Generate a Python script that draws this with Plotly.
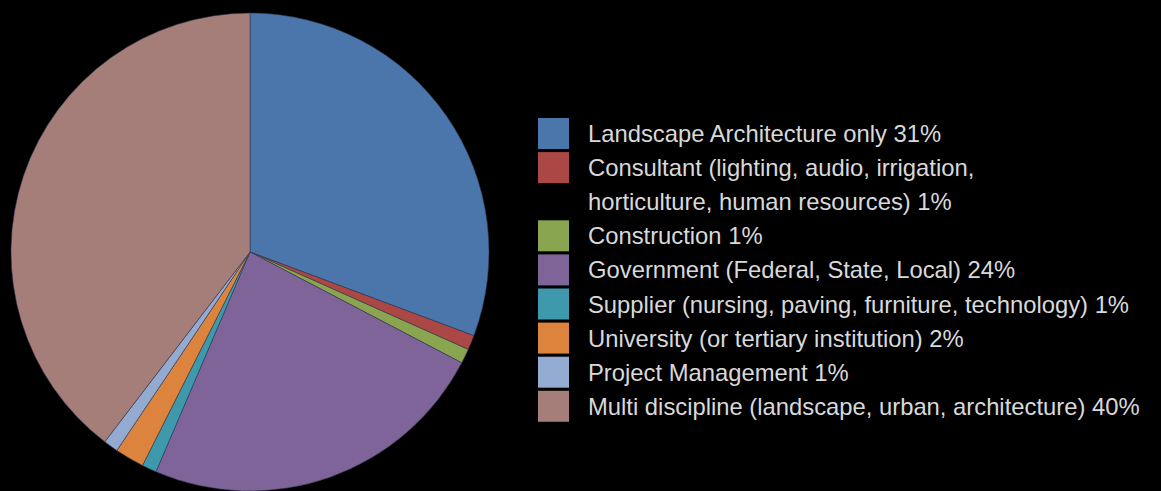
import plotly.graph_objects as go

# Share of respondents by employer type (percent)
categories = [
    "Landscape Architecture only",
    "Consultant (lighting, audio, irrigation,<br>horticulture, human resources)",
    "Construction",
    "Government (Federal, State, Local)",
    "Supplier (nursing, paving, furniture, technology)",
    "University (or tertiary institution)",
    "Project Management",
    "Multi discipline (landscape, urban, architecture)",
]
shares = [31, 1, 1, 24, 1, 2, 1, 40]
colors = ["#4a76ab", "#ab4845", "#8aa54f", "#7f649a", "#3f99ad",
          "#dc843e", "#93aad1", "#a57e7a"]

W, H = 1161, 491
fig = go.Figure()

fig.add_trace(go.Pie(
    labels=[c.replace("<br>", " ") for c in categories],
    values=shares,
    sort=False,
    direction="clockwise",
    rotation=0,
    textinfo="none",
    hoverinfo="label+percent",
    showlegend=False,
    marker=dict(colors=colors, line=dict(color="rgba(50,55,80,0.7)", width=0.8)),
    domain=dict(x=[11 / W, 489 / W], y=[0, 1 - 13 / H]),
))

# Hand-drawn legend: large square swatches with wrapped labels
sw, pitch = 31, 34.1
x0, y_first = 538, 133.5
text_x = 585.5
shapes, annotations = [], []
row = 0
for cat, val, col in zip(categories, shares, colors):
    lines = cat.split("<br>")
    lines[-1] = f"{lines[-1]} {val}%"
    yc = y_first + row * pitch
    shapes.append(dict(
        type="rect", xref="paper", yref="paper",
        x0=x0 / W, x1=(x0 + sw) / W,
        y0=1 - (yc + sw / 2) / H, y1=1 - (yc - sw / 2) / H,
        fillcolor=col, line=dict(width=0),
    ))
    for ln in lines:
        yl = y_first + row * pitch
        annotations.append(dict(
            xref="paper", yref="paper", x=text_x / W, y=1 - yl / H,
            xanchor="left", yanchor="middle", showarrow=False, text=ln,
            font=dict(family="Liberation Sans, Arial, sans-serif",
                      size=23.8, color="#d9d9d9"),
        ))
        row += 1

fig.update_layout(
    width=W, height=H,
    margin=dict(l=0, r=0, t=0, b=0),
    paper_bgcolor="#000000",
    plot_bgcolor="#000000",
    shapes=shapes,
    annotations=annotations,
)

fig.write_html("out.html")
